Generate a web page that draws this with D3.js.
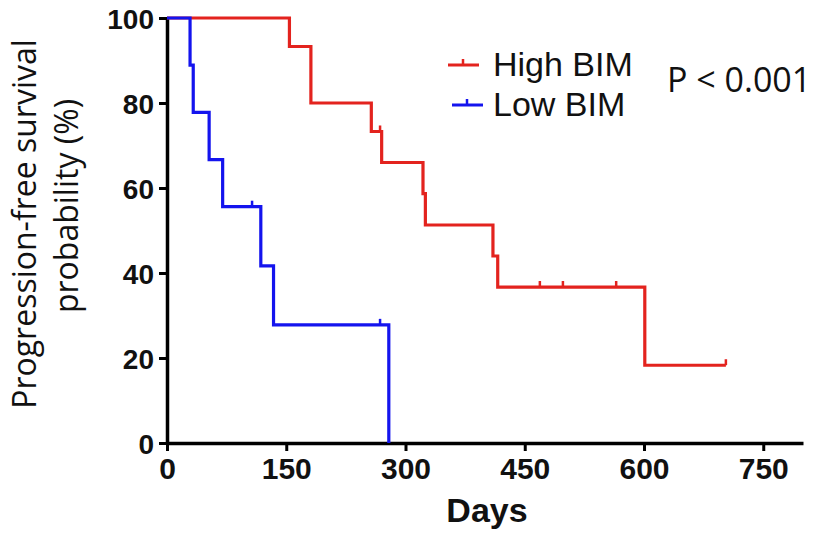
<!DOCTYPE html>
<html>
<head>
<meta charset="utf-8">
<script src="https://cdn.jsdelivr.net/npm/d3@7"></script>
<style>
  body { margin: 0; background: #fff; }
  svg { display: block; }
</style>
</head>
<body>
<script>

// Kaplan-Meier steps (days, survival %)
var highDays = [0, 154, 181, 257, 270, 322, 325, 410, 416, 601, 703];
var highSurv = [100, 93.3, 80, 73.3, 66, 58.7, 51.3, 44, 36.7, 18.3, 18.3];
var highCensor = [268, 469, 498, 565, 703];

var lowDays = [0, 29, 33, 53, 70, 118, 134, 279];
var lowSurv = [100, 88.9, 77.8, 66.7, 55.6, 41.7, 27.8, 0];
var lowCensor = [107, 268];

var xTicks = [0, 150, 300, 450, 600, 750];
var yTicks = [0, 20, 40, 60, 80, 100];

var seriesNames = ["High BIM", "Low BIM"];
var seriesColors = ["#e3231e", "#1414ee"];

var width = 814;
var height = 533;

var svg = d3.select("body")
      .append("svg")
      .attr("width", width)
      .attr("height", height);

var x = d3.scaleLinear().domain([0, 800]).range([167, 803]);
var y = d3.scaleLinear().domain([0, 100]).range([443, 18]);

// survival value at a given day (step function)
function survAt(days, surv, t) {
  var v = surv[0];
  for (var i = 0; i < days.length; i++) {
    if (days[i] <= t) v = surv[i];
  }
  return v;
}

var line = d3.line()
  .x(function(d) { return x(d[0]); })
  .y(function(d) { return y(d[1]); })
  .curve(d3.curveStepAfter);

var series = [
  { days: highDays, surv: highSurv, censor: highCensor, color: seriesColors[0] },
  { days: lowDays, surv: lowSurv, censor: lowCensor, color: seriesColors[1] }
];

// axes
var xAxis = svg.append("g")
  .attr("transform", "translate(0," + y(0) + ")")
  .call(d3.axisBottom(x).tickValues(xTicks).tickSize(8).tickPadding(6).tickSizeOuter(0));

var yAxis = svg.append("g")
  .attr("transform", "translate(" + x(0) + ",0)")
  .call(d3.axisLeft(y).tickValues(yTicks).tickSize(8).tickPadding(5).tickSizeOuter(0));

[xAxis, yAxis].forEach(function(ax) {
  ax.select(".domain").attr("stroke", "#000").attr("stroke-width", 3.5);
  ax.selectAll(".tick line").attr("stroke", "#000").attr("stroke-width", 3);
  ax.selectAll("text")
    .attr("fill", "#111")
    .attr("font-family", "'Liberation Sans', Arial, sans-serif")
    .attr("font-weight", "bold");
});
xAxis.selectAll("text").attr("font-size", 30).attr("dy", "0.72em");
yAxis.selectAll("text").attr("font-size", 28).attr("dy", "0.36em");

// curves
series.forEach(function(s) {
  var pts = s.days.map(function(d, i) { return [d, s.surv[i]]; });
  svg.append("path")
    .datum(pts)
    .attr("fill", "none")
    .attr("stroke", s.color)
    .attr("stroke-width", 3.2)
    .attr("d", line);

  svg.append("g").selectAll("line")
    .data(s.censor)
    .enter().append("line")
    .attr("x1", function(d) { return x(d); })
    .attr("x2", function(d) { return x(d); })
    .attr("y1", function(d) { return y(survAt(s.days, s.surv, d)); })
    .attr("y2", function(d) { return y(survAt(s.days, s.surv, d)) - 6; })
    .attr("stroke", s.color)
    .attr("stroke-width", 2.5);
});

// axis titles
svg.append("text")
  .attr("x", x(400) + 2)
  .attr("y", 522)
  .attr("text-anchor", "middle")
  .attr("font-family", "'Liberation Sans', Arial, sans-serif")
  .attr("font-weight", "bold")
  .attr("font-size", 34)
  .attr("fill", "#111")
  .text("Days");

svg.append("text")
  .attr("transform", "translate(36,224) rotate(-90)")
  .attr("text-anchor", "middle")
  .attr("font-family", "'Open Sans', sans-serif")
  .attr("font-size", 32)
  .attr("fill", "#111")
  .text("Progression-free survival");
svg.append("text")
  .attr("transform", "translate(78,206) rotate(-90)")
  .attr("text-anchor", "middle")
  .attr("font-family", "'Open Sans', sans-serif")
  .attr("font-size", 32)
  .attr("fill", "#111")
  .text("probability (%)");

// legend
var legend = svg.append("g").selectAll("g")
  .data(seriesNames)
  .enter().append("g")
  .attr("transform", function(d, i) { return "translate(448," + (65 + i * 40) + ")"; });

legend.append("line")
  .attr("x1", function(d, i) { return i * 4; })
  .attr("x2", function(d, i) { return 31 + i * 4; })
  .attr("stroke", function(d, i) { return seriesColors[i]; })
  .attr("stroke-width", 3);
legend.append("line")
  .attr("x1", function(d, i) { return 15 + i * 4; })
  .attr("x2", function(d, i) { return 15 + i * 4; })
  .attr("y1", 0)
  .attr("y2", -6)
  .attr("stroke", function(d, i) { return seriesColors[i]; })
  .attr("stroke-width", 2.5);
legend.append("text")
  .attr("x", 45)
  .attr("y", 11)
  .attr("font-family", "'Liberation Sans', Arial, sans-serif")
  .attr("font-size", 34)
  .attr("fill", "#111")
  .text(function(d) { return d; });

svg.append("text")
  .attr("x", 667)
  .attr("y", 92)
  .attr("font-family", "'Open Sans', sans-serif")
  .attr("font-size", 34)
  .attr("fill", "#111")
  .text("P < 0.001");

</script>
</body>
</html>
